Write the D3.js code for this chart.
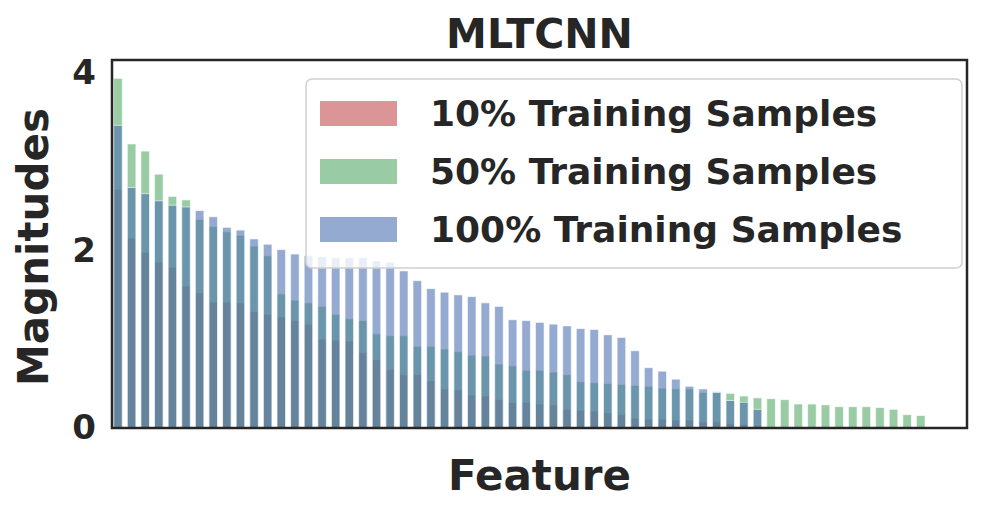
<!DOCTYPE html>
<html><head><meta charset="utf-8">
<script src="https://cdn.jsdelivr.net/npm/d3@7"></script>
<style>body{margin:0;background:#fff}</style>
</head><body><svg id="c" width="997" height="513"></svg>
<script>
const red10 = [2.69,2.14,1.98,1.87,1.81,1.60,1.52,1.42,1.42,1.41,1.31,1.28,1.25,1.21,1.17,1.00,0.99,0.98,0.85,0.77,0.66,0.60,0.60,0.53,0.44,0.43,0.37,0.36,0.32,0.29,0.29,0.27,0.26,0.21,0.20,0.19,0.17,0.15,0.11,0.10,0.10,0.09,0.09,0.07,0.07,0.05,0.04,0.03];
const green50 = [3.94,3.20,3.12,2.86,2.61,2.57,2.35,2.27,2.21,2.17,2.05,1.94,1.51,1.44,1.41,1.37,1.28,1.23,1.21,1.06,1.04,1.04,0.92,0.92,0.89,0.86,0.82,0.81,0.72,0.70,0.65,0.65,0.63,0.60,0.52,0.51,0.50,0.49,0.48,0.47,0.45,0.44,0.44,0.40,0.41,0.39,0.36,0.34,0.33,0.32,0.27,0.27,0.26,0.24,0.24,0.24,0.23,0.21,0.15,0.14];
const blue100 = [3.41,2.71,2.64,2.56,2.51,2.49,2.45,2.38,2.26,2.23,2.13,2.07,2.01,1.96,1.94,1.93,1.92,1.92,1.92,1.88,1.87,1.77,1.66,1.57,1.53,1.50,1.48,1.41,1.37,1.22,1.21,1.19,1.17,1.15,1.12,1.11,1.05,1.02,0.87,0.68,0.64,0.55,0.47,0.44,0.40,0.31,0.29,0.21];
const series = [
  {label:"10% Training Samples", values:red10, color:"#c44e52"},
  {label:"50% Training Samples", values:green50, color:"#55a868"},
  {label:"100% Training Samples", values:blue100, color:"#4c72b0"}
];
const yTicks = [0,2,4];

const svg = d3.select("#c");
const L=112,R=967,T=60,B=428;
const x = d3.scaleLinear().domain([-0.44,62.4]).range([L,R]);
const y = d3.scaleLinear().domain([0,4]).range([B,B-4*88.75]);
const bw = x(0.63)-x(0);
const font = "DejaVu Sans, sans-serif";

series.forEach(s=>{
  svg.append("g").selectAll("rect").data(s.values).enter().append("rect")
    .attr("x",(d,i)=>x(i)-bw/2).attr("width",bw)
    .attr("y",d=>y(d)).attr("height",d=>B-y(d))
    .attr("fill",s.color).attr("fill-opacity",0.6)
    .attr("stroke","#fff").attr("stroke-opacity",0.6).attr("stroke-width",1);
});

svg.append("rect").attr("x",L).attr("y",T).attr("width",R-L).attr("height",B-T)
  .attr("fill","none").attr("stroke","#262626").attr("stroke-width",2.5);

const ya = svg.append("g").attr("transform",`translate(${L},0)`)
  .call(d3.axisLeft(y).tickValues(yTicks).tickFormat(d3.format("d")).tickSize(0).tickPadding(16));
ya.select(".domain").remove();
ya.selectAll("text").attr("font-family",font).attr("font-weight","bold")
  .attr("font-size",34).attr("fill","#262626");

svg.append("text").attr("x",(L+R)/2).attr("y",48).attr("text-anchor","middle")
  .attr("font-family",font).attr("font-weight","bold").attr("font-size",41).attr("fill","#262626").text("MLTCNN");
svg.append("text").attr("x",(L+R)/2).attr("y",490).attr("text-anchor","middle")
  .attr("font-family",font).attr("font-weight","bold").attr("font-size",42).attr("fill","#262626").text("Feature");
svg.append("text").attr("transform",`translate(48,${(T+B)/2+3}) rotate(-90)`).attr("text-anchor","middle")
  .attr("font-family",font).attr("font-weight","bold").attr("font-size",42).attr("fill","#262626").text("Magnitudes");

const lg = svg.append("g");
lg.append("rect").attr("x",306).attr("y",79).attr("width",656).attr("height",189).attr("rx",6)
  .attr("fill","#fff").attr("fill-opacity",0.8).attr("stroke","#d0d0d0").attr("stroke-width",1.5);
series.forEach((s,i)=>{
  const cy = 113+i*58;
  lg.append("rect").attr("x",320).attr("y",cy-12).attr("width",77).attr("height",25)
    .attr("fill",s.color).attr("fill-opacity",0.6);
  lg.append("text").attr("x",430).attr("y",cy+13).attr("font-family",font).attr("font-weight","bold")
    .attr("font-size",36).attr("fill","#262626").text(s.label);
});
</script></body></html>
